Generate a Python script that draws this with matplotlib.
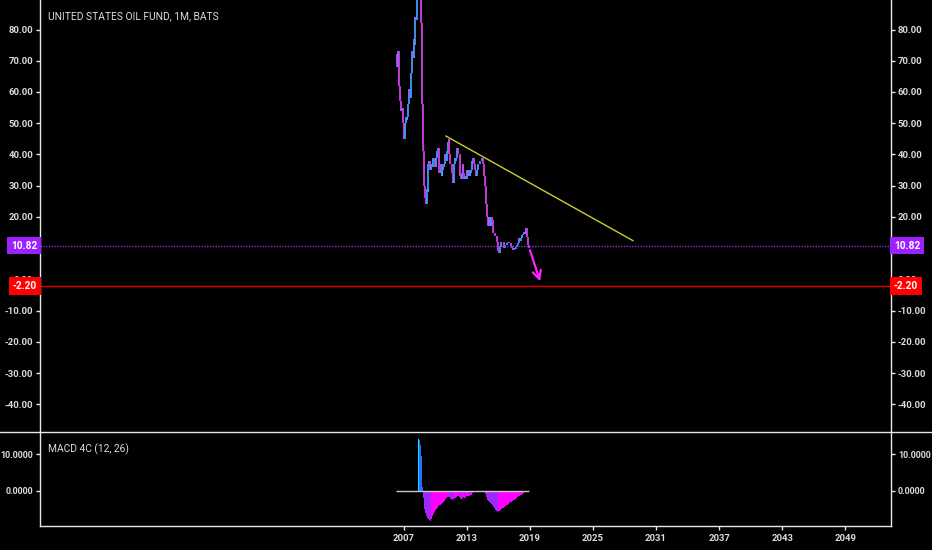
import matplotlib
matplotlib.use("Agg")
import matplotlib.pyplot as plt
from matplotlib.lines import Line2D
import pandas as pd

# USO monthly closes, Apr 2006 .. Dec 2018
closes = [
    72, 68, 73, 70, 62, 57, 54, 55, 50,
    45, 50, 52, 51, 52, 56, 61, 58, 66, 73, 71, 77,
    75, 84, 83, 95, 107, 115, 103, 95, 82, 56, 41, 30,
    26, 24, 29, 28, 37, 38, 35, 37, 36, 39, 39, 39,
    36, 39, 41, 42, 34, 34, 37, 33, 35, 36, 37, 40,
    38, 41, 44, 45, 40, 37, 37, 34, 31, 37, 39, 38,
    39, 42, 40, 40, 33, 32, 34, 37, 34, 32, 33, 32,
    35, 33, 35, 33, 34, 35, 38, 39, 37, 35, 33, 35,
    35, 37, 37, 38, 38, 39, 37, 35, 33, 30, 24, 20,
    17, 20, 17, 20, 20, 19, 15, 15, 14, 14, 12, 11,
    9, 8.5, 10.5, 12, 12, 12, 10, 11, 11, 11, 11.5, 12,
    11.8, 11.5, 10.7, 10.3, 10, 9.3, 10.1, 9.8, 10.5, 11.1, 11.8, 12.3,
    13.2, 12.4, 13.1, 14.2, 14.4, 15.1, 14.4, 14.9, 16.3, 13.6, 10.9, 10.2,
]

# MACD 4C (12, 26) values, no value for the first 26 months
macd = [None] * 26 + [
    14.3, 13.9, 12.6, 9.5, 1.0, -2.0, -4.0,
    -5.0, -6.0, -6.8, -7.4, -7.8, -8.1, -8.3, -8.2, -7.6, -7.0, -6.3, -5.8,
    -5.3, -5.0, -4.7, -4.4, -4.2, -4.0, -3.8, -3.6, -3.3, -3.0, -2.8, -2.5,
    -2.3, -2.0, -1.8, -1.6, -1.8, -2.1, -2.2, -2.4, -2.5, -2.3, -2.0, -1.9,
    -1.7, -1.4, -1.3, -1.4, -1.8, -2.1, -2.1, -1.9, -1.8, -1.9, -1.9, -1.7,
    -1.4, -1.3, -1.3, -1.4, -1.2, -1.0, -0.7, -0.5, -0.4, -0.4, -0.3, -0.3,
    -0.2, -0.1, -0.05, -0.02, -0.05, -0.05, -0.1, -0.2, -0.4, -0.9, -1.6, -2.3,
    -2.5, -2.8, -3.1, -3.4, -3.7, -4.0, -4.3, -4.6, -4.9, -5.2, -5.4, -5.7,
    -5.6, -5.5, -5.3, -5.1, -4.9, -4.8, -4.6, -4.4, -4.2, -4.0, -3.8, -3.7,
    -3.5, -3.3, -3.1, -3.0, -2.8, -2.6, -2.4, -2.2, -2.1, -1.9, -1.7, -1.5,
    -1.4, -1.2, -1.0, -0.9, -0.7, -0.6, -0.4, -0.3, -0.2, -0.15, -0.1, -0.05,
]

year_ticks = [2007, 2013, 2019, 2025, 2031, 2037, 2043, 2049]
price_ticks = [-40, -30, -20, -10, 0, 20, 30, 40, 50, 60, 70, 80]  # 10.00 sits under the 10.82 tag
macd_ticks = [0, 10]

trend_x = [2011.0, 2028.8]
trend_y = [45.9, 12.4]
arrow_end = (2020.05, -1.5)
level_purple = 10.82
level_red = -2.20

dates = pd.date_range("2006-04-01", periods=len(closes), freq="MS")
x = [d.year + (d.month - 1) / 12 for d in dates]

plt.rcParams["font.family"] = ["Roboto", "DejaVu Sans"]
txt = "#dcdcdc"
axis_col = "#e8e8e8"
tick_fs = 6.8

fig = plt.figure(figsize=(9.32, 5.5), dpi=100, facecolor="black")
ax = fig.add_axes([40 / 932, 1 - 432 / 550, 851 / 932, 432 / 550])
ax2 = fig.add_axes([40 / 932, 1 - 526 / 550, 851 / 932, 94 / 550], sharex=ax)

for a in (ax, ax2):
    a.set_facecolor("black")
    for s in a.spines.values():
        s.set_color(axis_col)
        s.set_linewidth(1)
    a.spines["top"].set_visible(False)
    a.tick_params(axis="y", colors=axis_col, labelcolor=txt, length=3, width=1, pad=2,
                  labelsize=tick_fs, left=True, right=True, labelleft=True, labelright=True)
ax.spines["bottom"].set_visible(False)
ax2.tick_params(axis="y", labelsize=6.4)

# price bars (open = previous close)
for i in range(1, len(closes)):
    o, c = closes[i - 1], closes[i]
    col = "#3f9cff" if c >= o else "#d83cf0"
    ax.vlines(x[i], min(o, c), max(o, c), color=col, lw=1.3)

ax.plot(trend_x, trend_y, color="#cccc33", lw=1)
ax.axhline(level_purple, color="#8a2be2", lw=1, ls=(0, (1, 1)))
ax.axhline(level_red, color="#dd0000", lw=1)
ax.annotate("", xy=arrow_end, xytext=(x[-1], closes[-1]),
            arrowprops=dict(arrowstyle="->,head_width=0.3,head_length=0.6",
                            color="#ff22ff", lw=1.6))

ax.set_ylim(-48.87, 89.45)
ax.set_yticks(price_ticks)
ax.set_yticklabels([f"{v:.2f}" for v in price_ticks], fontweight="bold")
ax.tick_params(axis="x", bottom=False, labelbottom=False)

for lvl, fc in ((level_purple, "#9b22ff"), (level_red, "#ff0000")):
    for xa, ha in ((-0.0035, "right"), (1.0035, "left")):
        ax.text(xa, lvl, f"{lvl:.2f}", transform=ax.get_yaxis_transform(),
                ha=ha, va="center", color="white", fontsize=7.3, fontweight="bold",
                bbox=dict(boxstyle="square,pad=0.38", fc=fc, ec="none"), zorder=5)

ax.text(8 / 851, 1 - 16.5 / 432, "UNITED STATES OIL FUND, 1M, BATS", transform=ax.transAxes,
        color=txt, fontsize=7.4, va="center", ha="left")

# MACD histogram
prev = None
for xi, v in zip(x, macd):
    if v is None:
        continue
    if v >= 0:
        col = "#00e5ff" if prev is None or v >= prev else "#2a6bff"
    else:
        col = "#ff00ff" if prev is not None and v >= prev else "#9c27ff"
    ax2.bar(xi, v, width=1 / 12, color=col, lw=0)
    prev = v
ax2.hlines(0, x[0], x[-1], color="#c8c8c8", lw=1)

ax2.set_ylim(-9.62, 16.13)
ax2.set_yticks(macd_ticks)
ax2.set_yticklabels([f"{v:.4f}" for v in macd_ticks], fontweight="bold")
ax2.set_xlim(1972.37, 2053.36)
ax2.set_xticks(year_ticks)
ax2.set_xticklabels([str(y) for y in year_ticks], fontweight="bold")
ax2.tick_params(axis="x", colors=axis_col, labelcolor=txt, length=3, width=1, pad=3,
                labelsize=tick_fs)
ax2.text(8 / 851, 1 - 17 / 94, "MACD 4C (12, 26)", transform=ax2.transAxes,
         color=txt, fontsize=7.4, va="center", ha="left")

fig.add_artist(Line2D([0, 1], [1 - 432 / 550] * 2, transform=fig.transFigure,
                      color=axis_col, lw=1))

fig.savefig("out.png", dpi=100, facecolor="black")
